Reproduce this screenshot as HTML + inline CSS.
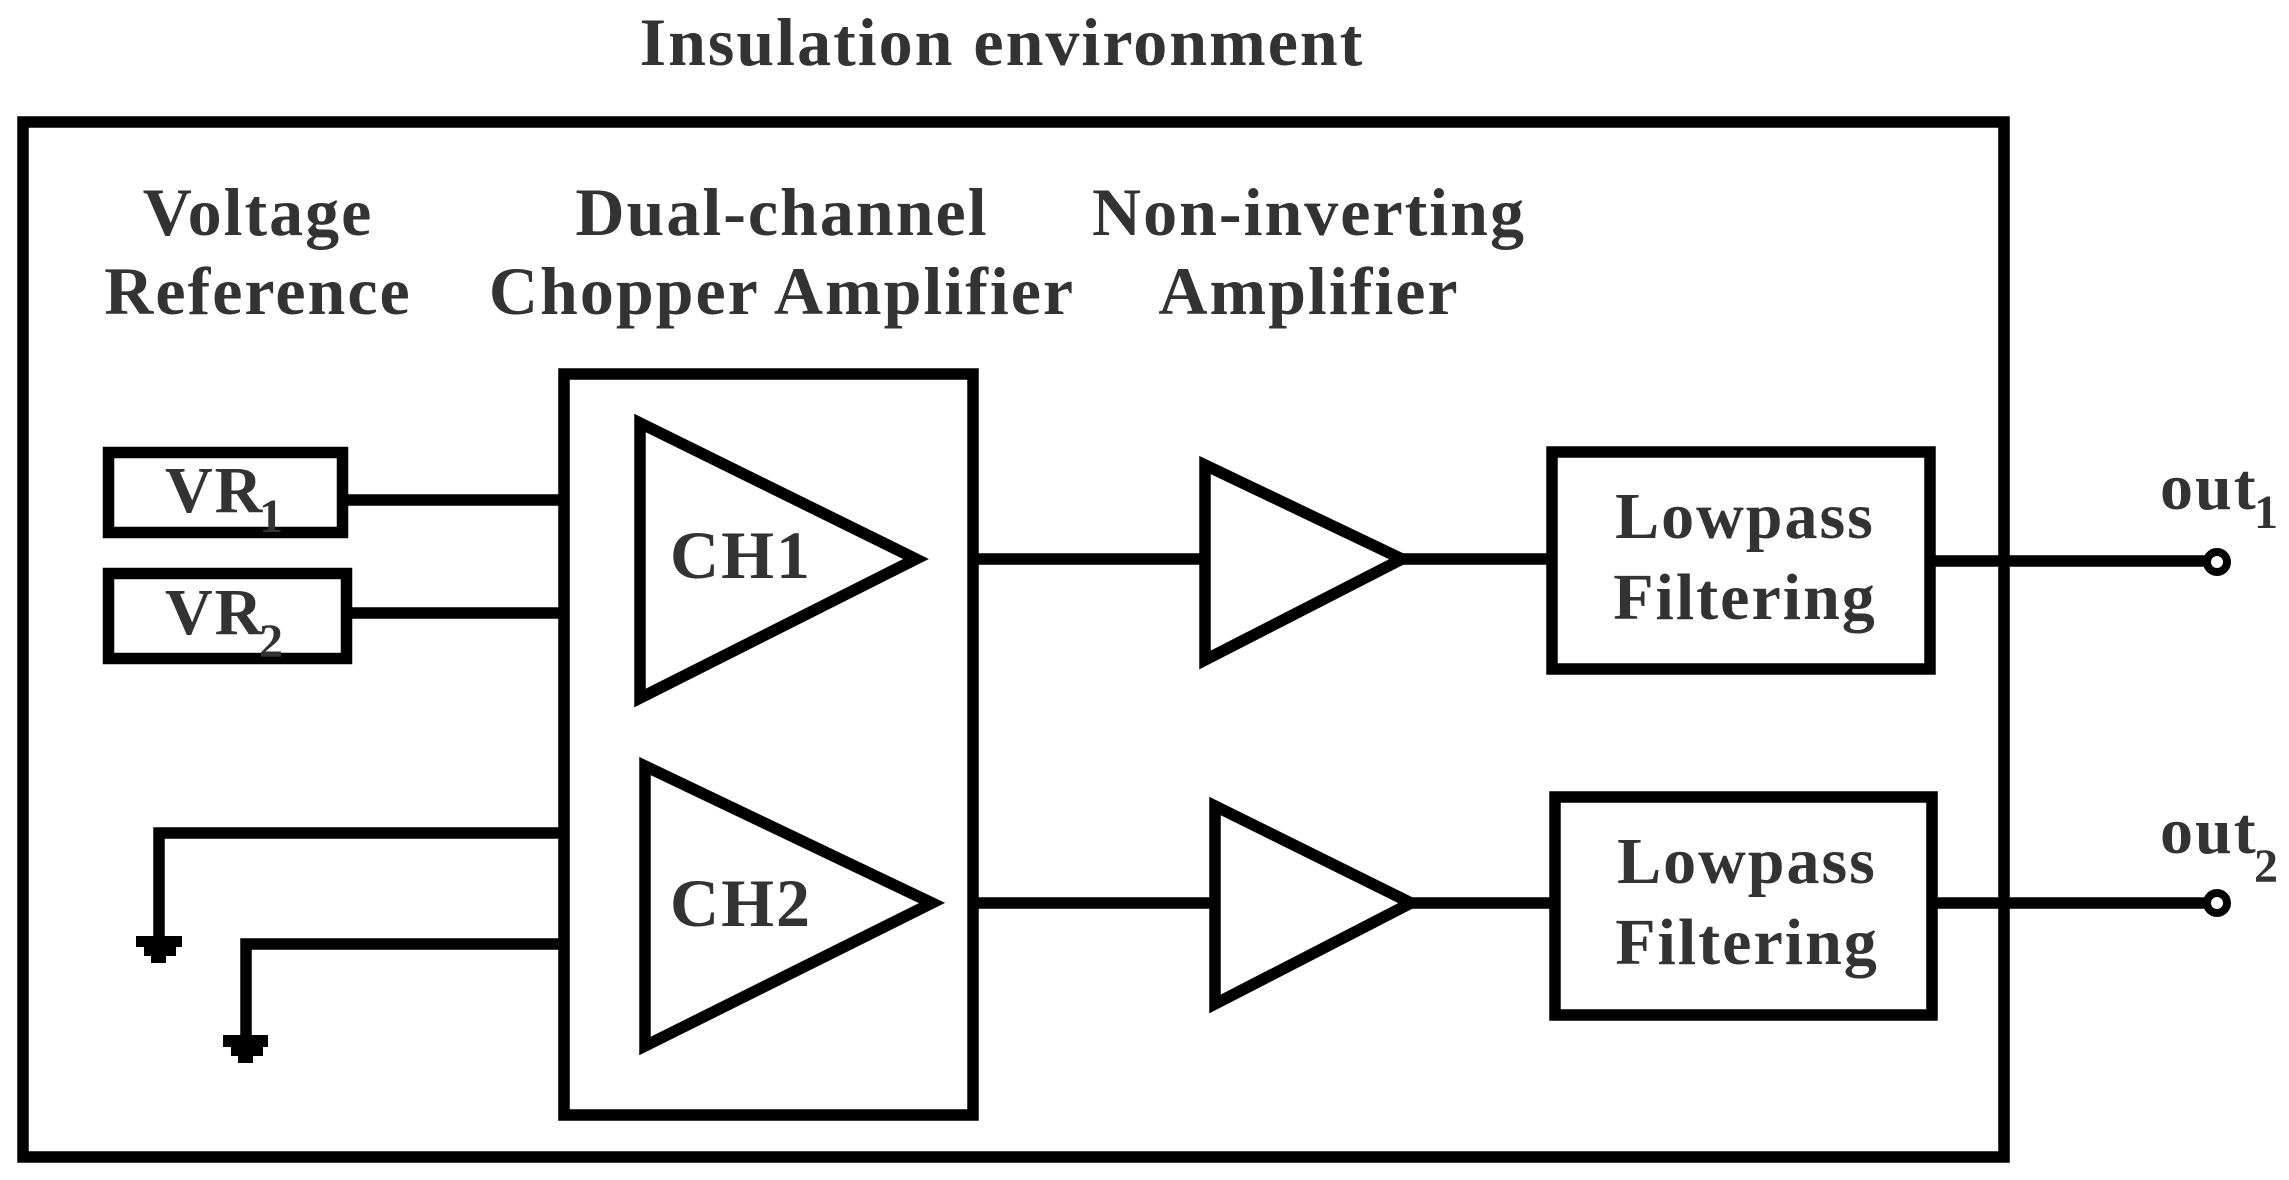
<!DOCTYPE html>
<html><head><meta charset="utf-8"><style>
html,body{margin:0;padding:0;background:#fff;}
svg{display:block;}
text{font-family:"Liberation Serif",serif;font-weight:bold;fill:#333;letter-spacing:2px;}
</style></head><body>
<svg width="2289" height="1180" viewBox="0 0 2289 1180" xmlns="http://www.w3.org/2000/svg">
<g fill="none" stroke="#000" stroke-width="11.5" stroke-linejoin="miter">
<rect x="23" y="122" width="1981" height="1035"/>
<rect x="108.5" y="452.5" width="234" height="80"/>
<rect x="108.5" y="573.5" width="238" height="85"/>
<rect x="564" y="374" width="409" height="741"/>
<polygon points="640,423 640,698 916,559"/>
<polygon points="645,766 645,1046 932,903"/>
<polygon points="1205,465 1205,660 1402,559"/>
<polygon points="1215,806 1215,1004 1411,903"/>
<rect x="1552" y="452" width="378" height="217"/>
<rect x="1555" y="797" width="377" height="218"/>
<line x1="342" y1="500" x2="564" y2="500"/>
<line x1="346" y1="613" x2="564" y2="613"/>
<line x1="973" y1="559" x2="1205" y2="559"/>
<line x1="1402" y1="559" x2="1552" y2="559"/>
<line x1="1930" y1="561" x2="2206" y2="561"/>
<line x1="973" y1="903" x2="1215" y2="903"/>
<line x1="1411" y1="903" x2="1555" y2="903"/>
<line x1="1932" y1="903" x2="2206" y2="903"/>
<polyline points="564,833 159,833 159,940"/>
<polyline points="564,944 246,944 246,1040"/>
<circle cx="2217" cy="562" r="10" stroke-width="8" fill="#fff"/>
<circle cx="2217" cy="903" r="10" stroke-width="8" fill="#fff"/>
</g>
<g fill="#000">
<rect x="136" y="936" width="46" height="11"/>
<rect x="144" y="947" width="32" height="9"/>
<rect x="151" y="956" width="15" height="7"/>
<rect x="223" y="1035" width="45" height="12"/>
<rect x="231" y="1047" width="32" height="9"/>
<rect x="238" y="1056" width="15" height="7"/>
</g>
<text x="1002" y="65" font-size="68" text-anchor="middle">Insulation environment</text>
<text x="258" y="235" font-size="68" text-anchor="middle">Voltage</text>
<text x="258" y="314" font-size="68" text-anchor="middle">Reference</text>
<text x="782" y="235" font-size="68" text-anchor="middle">Dual-channel</text>
<text x="782" y="314" font-size="68" text-anchor="middle">Chopper Amplifier</text>
<text x="1309" y="235" font-size="68" text-anchor="middle">Non-inverting</text>
<text x="1309" y="314" font-size="68" text-anchor="middle">Amplifier</text>
<text x="165" y="512" font-size="66">VR</text><text x="259" y="532" font-size="48">1</text>
<text x="165" y="634" font-size="66">VR</text><text x="259" y="657" font-size="48">2</text>
<text x="670" y="578" font-size="68">CH1</text>
<text x="670" y="926" font-size="68">CH2</text>
<text x="1745" y="538" font-size="66" text-anchor="middle">Lowpass</text>
<text x="1745" y="619" font-size="66" text-anchor="middle">Filtering</text>
<text x="1747" y="883" font-size="66" text-anchor="middle">Lowpass</text>
<text x="1747" y="964" font-size="66" text-anchor="middle">Filtering</text>
<text x="2160" y="509" font-size="66">out</text><text x="2254" y="528" font-size="48">1</text>
<text x="2160" y="853" font-size="66">out</text><text x="2254" y="882" font-size="48">2</text>
</svg>
</body></html>
